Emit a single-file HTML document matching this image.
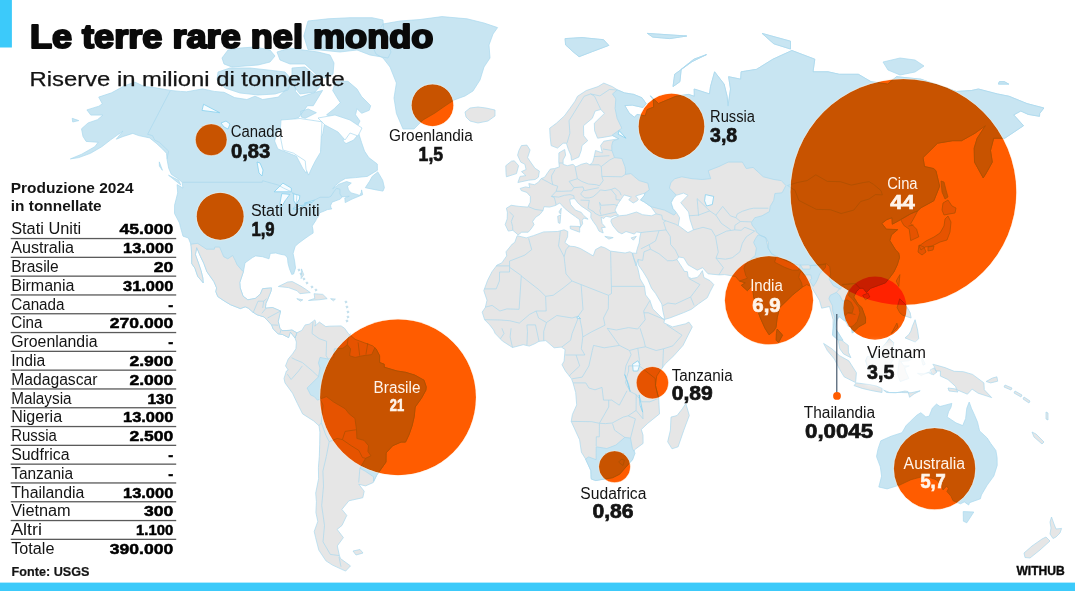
<!DOCTYPE html><html><head><meta charset="utf-8"><style>
html,body{margin:0;padding:0;background:#fff;}
#c{position:relative;width:1075px;height:591px;overflow:hidden;background:#fff;}
svg{position:absolute;left:0;top:0;font-family:"Liberation Sans",sans-serif;}
.m{mix-blend-mode:multiply;}
</style></head><body><div id="c">
<svg width="1075" height="591" viewBox="0 0 1075 591">
<rect width="1075" height="591" fill="#fff"/>
<g fill="#e6e6e6" stroke="#a9d8ee" stroke-width="0.7" stroke-linejoin="round">
<path d="M517.2,235.7 L526.2,237.9 L533.3,235.7 L543.7,231.9 L557.7,231.5 L564.1,229.8 L567.8,231.5 L567.6,236.8 L564.9,242.5 L569.6,246.2 L574.7,246.6 L580.4,248.5 L593.2,255.9 L595.5,249.6 L601.0,246.6 L604.7,247.7 L610.6,251.1 L625.1,253.0 L629.8,251.8 L632.3,253.0 L633.6,257.8 L637.7,267.7 L640.1,278.9 L644.5,286.4 L645.6,294.9 L649.9,300.5 L652.8,308.9 L662.0,318.0 L664.5,319.7 L663.9,322.8 L672.5,326.9 L685.5,323.8 L688.9,322.1 L692.3,326.9 L688.1,335.2 L683.0,345.4 L673.9,355.7 L665.3,363.8 L660.4,370.3 L656.7,376.1 L655.5,385.6 L658.7,398.3 L659.5,413.9 L647.8,423.3 L641.3,429.5 L643.0,435.1 L643.1,443.4 L634.5,449.8 L632.5,459.7 L629.1,463.4 L619.6,474.2 L612.6,477.7 L595.8,480.5 L591.4,479.1 L591.1,477.4 L590.9,470.7 L585.6,459.0 L581.4,452.2 L579.6,439.8 L571.2,421.4 L572.4,414.5 L576.7,404.9 L575.7,392.5 L573.0,382.9 L571.5,378.8 L565.4,371.0 L562.0,364.8 L564.1,361.1 L565.1,349.5 L561.4,347.1 L554.1,347.8 L545.8,340.6 L539.1,341.3 L534.8,343.7 L529.3,346.1 L523.2,344.7 L512.5,347.5 L502.4,341.0 L495.2,333.5 L493.6,330.0 L489.7,324.9 L484.6,319.7 L482.2,312.1 L485.3,307.5 L487.0,300.2 L483.8,290.7 L487.6,280.3 L492.0,271.7 L497.0,265.1 L501.8,262.9 L506.7,255.9 L506.0,251.8 L512.3,244.0 L514.7,242.5Z M633.6,257.8 L632.3,253.0 L636.8,253.3 L636.5,251.8 L637.8,247.0 L639.2,242.9 L639.9,236.8 L640.9,232.6 L636.4,231.9 L634.4,234.1 L626.0,231.5 L621.9,233.8 L618.0,231.9 L612.8,225.7 L610.9,221.5 L611.4,219.2 L614.7,217.7 L619.3,215.8 L626.4,215.1 L636.5,212.0 L642.5,214.7 L651.4,215.8 L656.1,213.9 L651.0,206.7 L644.2,201.9 L640.6,200.1 L644.4,195.3 L644.9,193.1 L635.7,196.0 L638.3,199.3 L637.2,200.8 L633.2,203.0 L628.7,199.7 L631.4,197.1 L624.1,194.9 L620.5,200.1 L617.5,204.5 L615.0,210.1 L617.5,214.7 L618.7,215.1 L614.0,215.8 L610.8,217.3 L605.8,216.2 L603.8,218.5 L601.1,217.3 L602.1,223.4 L605.4,227.3 L601.6,227.7 L603.2,233.0 L599.0,231.1 L596.5,226.1 L593.2,221.5 L590.8,217.7 L591.0,212.8 L586.8,209.7 L581.8,206.4 L577.6,202.7 L575.6,199.7 L574.1,198.6 L569.7,199.3 L570.6,204.5 L575.4,210.1 L581.3,212.4 L583.6,215.4 L588.1,219.2 L583.7,218.1 L582.2,220.4 L582.6,223.8 L579.9,227.7 L580.5,225.4 L579.6,219.6 L575.4,216.6 L569.5,212.4 L564.5,208.2 L559.8,203.0 L555.1,205.6 L549.5,207.1 L544.0,206.7 L543.0,210.5 L540.0,214.3 L535.6,217.3 L532.6,221.5 L534.0,224.6 L531.2,228.8 L528.2,232.2 L521.7,232.2 L518.1,234.9 L516.0,233.0 L512.8,230.3 L508.3,231.1 L505.2,224.6 L507.2,218.9 L507.4,212.4 L506.4,208.2 L511.2,205.3 L519.1,206.4 L527.8,207.1 L530.3,202.3 L530.4,196.4 L526.8,192.4 L521.3,190.6 L520.2,188.4 L525.5,186.9 L529.8,187.7 L528.8,183.6 L534.5,184.7 L538.6,182.1 L541.0,178.7 L544.7,177.2 L547.6,172.8 L550.3,169.1 L554.5,168.6 L559.4,166.9 L558.8,162.1 L558.9,152.9 L564.7,149.5 L565.6,155.2 L563.1,159.9 L563.1,164.3 L567.3,165.7 L573.0,164.3 L575.8,166.9 L581.4,164.3 L586.5,163.0 L589.9,164.8 L592.7,162.1 L594.0,157.6 L595.5,150.5 L602.3,152.9 L600.6,145.6 L603.8,141.2 L618.9,138.7 L612.6,135.7 L604.4,137.2 L597.6,138.2 L594.6,130.7 L594.3,123.3 L604.4,113.4 L600.8,109.5 L595.2,111.0 L592.3,118.3 L583.5,125.7 L583.7,135.7 L587.7,140.7 L582.0,145.6 L581.2,150.5 L578.8,157.1 L571.5,160.3 L570.9,155.2 L568.4,149.5 L566.4,143.2 L563.1,143.2 L557.5,148.1 L551.1,145.6 L550.1,136.2 L549.7,128.2 L556.3,123.3 L564.4,115.9 L569.8,108.5 L575.0,101.2 L577.5,96.3 L586.3,90.5 L598.0,86.6 L603.8,83.1 L612.3,86.6 L617.7,90.0 L624.5,92.9 L633.8,94.4 L642.0,97.8 L646.1,103.6 L643.0,107.5 L632.2,105.1 L624.8,105.6 L629.4,113.4 L634.6,117.3 L637.0,114.4 L645.2,115.9 L647.3,109.5 L653.7,107.1 L653.3,99.7 L650.4,95.9 L658.5,103.6 L675.9,96.3 L688.7,94.4 L694.3,96.3 L694.2,89.0 L709.5,93.9 L710.5,86.6 L714.6,71.8 L724.1,84.1 L727.1,96.3 L728.0,106.1 L730.5,89.0 L728.6,76.7 L740.7,79.2 L741.1,71.8 L756.6,69.3 L772.9,59.2 L791.9,50.5 L814.8,59.2 L813.0,71.8 L828.1,71.8 L839.4,74.3 L858.4,74.3 L871.0,81.7 L887.7,84.1 L896.5,76.7 L920.9,79.2 L956.5,91.5 L971.5,90.5 L978.4,89.0 L997.2,93.9 L1009.2,96.3 L1027.0,103.6 L1043.9,108.0 L1039.7,113.4 L1039.5,116.3 L1028.2,114.4 L1020.8,111.0 L1013.7,114.9 L1023.5,125.7 L1004.8,138.2 L993.7,138.2 L990.5,150.5 L992.3,162.1 L986.4,172.8 L983.2,177.9 L974.5,162.1 L974.2,148.1 L977.2,138.2 L985.4,125.7 L975.0,133.2 L961.6,140.7 L952.7,140.7 L937.6,143.2 L923.0,157.6 L924.5,166.5 L933.7,168.6 L935.9,170.7 L939.6,186.2 L933.8,200.8 L920.6,207.9 L917.7,210.9 L913.1,219.6 L910.8,223.4 L916.6,229.2 L918.8,236.8 L910.7,240.6 L910.2,236.8 L909.2,229.2 L903.8,225.4 L901.6,221.5 L900.7,219.6 L892.3,224.2 L892.0,217.7 L886.8,219.6 L881.8,223.4 L886.3,229.2 L897.7,229.6 L891.4,234.9 L889.8,240.6 L895.6,250.0 L898.7,253.0 L899.5,257.4 L897.3,264.8 L893.9,272.0 L889.8,277.5 L885.5,282.8 L878.7,285.3 L870.7,288.2 L866.4,292.4 L863.1,288.2 L859.8,288.2 L856.4,291.7 L853.7,297.0 L858.0,304.0 L861.8,307.5 L865.6,318.0 L865.5,323.1 L858.9,326.6 L852.4,333.1 L851.3,326.9 L848.2,326.2 L846.6,323.1 L844.4,319.7 L840.0,316.2 L837.0,319.7 L835.2,328.3 L838.7,333.5 L841.8,340.3 L848.3,345.4 L848.4,352.2 L850.9,357.7 L843.5,353.9 L839.8,348.8 L838.2,340.3 L832.6,335.2 L833.0,328.3 L833.1,319.7 L829.5,306.5 L821.7,308.2 L819.5,300.5 L814.2,291.7 L810.9,286.4 L806.8,284.6 L802.4,287.1 L796.6,291.7 L792.2,295.3 L785.8,301.6 L779.7,307.5 L777.2,317.6 L776.0,327.3 L773.9,330.7 L769.1,334.8 L765.0,328.3 L760.5,318.3 L757.2,309.3 L753.7,297.0 L752.8,289.6 L752.3,285.3 L747.4,290.7 L741.4,285.3 L745.3,282.8 L739.4,281.0 L735.3,276.4 L724.6,274.6 L718.9,274.9 L708.0,273.8 L702.6,267.7 L697.3,270.2 L688.0,264.8 L683.8,257.8 L678.7,257.0 L677.0,259.6 L682.7,268.4 L684.3,271.3 L687.4,271.7 L688.2,277.1 L691.5,278.5 L697.2,277.5 L699.8,274.6 L702.4,270.6 L703.9,277.5 L710.1,280.7 L713.8,284.6 L710.1,291.7 L707.3,297.7 L698.3,304.0 L691.4,309.3 L683.3,312.8 L669.7,318.0 L664.8,319.3 L662.9,311.0 L661.8,304.0 L655.6,293.5 L651.5,288.2 L647.7,279.2 L643.3,272.0 L638.3,264.8 L638.2,259.2 L636.5,264.8 L635.9,265.9 L633.6,257.8Z M296.8,332.8 L301.8,330.4 L305.2,324.9 L309.2,324.2 L314.9,319.9 L315.9,323.1 L314.8,326.2 L319.4,322.1 L325.8,326.6 L329.2,326.2 L341.1,325.9 L344.6,328.3 L348.3,333.5 L355.1,339.3 L364.2,342.7 L372.6,345.8 L376.0,348.8 L379.6,355.7 L379.6,362.5 L384.2,364.2 L384.2,367.2 L397.0,371.0 L405.6,372.3 L414.8,375.1 L424.0,380.2 L426.2,386.8 L425.9,390.1 L421.4,398.3 L415.2,407.0 L414.2,416.7 L412.0,426.1 L408.9,435.0 L405.5,442.1 L401.0,442.1 L392.7,445.7 L386.1,452.9 L386.0,462.0 L376.9,474.9 L373.3,482.5 L365.5,485.9 L358.8,484.3 L364.2,491.2 L362.8,497.7 L348.9,500.8 L341.9,509.4 L346.8,515.4 L342.0,525.4 L337.1,529.4 L343.4,537.6 L337.3,545.9 L339.4,555.6 L340.5,558.6 L350.5,565.9 L345.6,571.1 L332.5,565.1 L325.9,560.8 L318.8,550.1 L315.6,537.6 L314.2,531.5 L317.8,521.4 L315.9,512.6 L316.4,501.6 L315.7,493.1 L318.6,478.7 L318.4,467.5 L319.3,456.5 L319.7,444.2 L319.9,432.1 L319.0,425.8 L313.6,420.9 L302.6,413.9 L297.4,403.5 L292.5,393.2 L285.0,382.9 L284.0,378.5 L286.4,371.0 L288.2,370.0 L285.5,365.9 L288.2,359.1 L292.5,353.9 L295.9,348.8 L296.4,342.0 L295.0,337.9Z M526.9,145.1 L530.1,150.0 L527.6,157.6 L530.6,162.1 L534.9,168.2 L539.4,171.1 L538.4,177.2 L535.2,179.5 L528.6,180.2 L517.9,182.5 L520.1,176.4 L525.9,175.6 L521.5,171.6 L526.1,169.5 L524.9,164.3 L520.7,162.1 L517.6,155.2 L518.9,150.5 L521.4,145.6Z M514.3,160.8 L518.6,165.7 L516.5,173.6 L506.4,176.8 L506.0,172.8 L505.8,165.7 L511.4,161.2Z M570.1,226.1 L579.6,226.5 L579.7,232.2 L570.4,228.8Z M560.7,215.1 L560.0,223.4 L558.3,222.7 L557.7,216.2Z M561.3,208.2 L560.7,214.3 L558.9,212.0Z M604.8,236.4 L613.2,237.6 L608.9,239.1Z M636.3,236.4 L633.4,240.2 L631.1,237.9Z M565.1,38.6 L582.1,37.6 L603.5,39.7 L608.8,45.4 L592.3,51.6 L579.1,56.7 L572.9,51.6 L565.6,44.9Z M706.5,54.6 L692.0,61.7 L674.7,74.3 L673.0,86.6 L679.9,81.7 L681.2,69.3 L693.9,59.2Z M762.1,33.4 L790.5,41.2 L790.5,49.0 L773.8,43.8Z M1004.4,81.7 L1008.7,84.1 L998.4,84.1 L999.3,81.7Z M647.4,33.4 L686.8,36.0 L669.7,38.6 L652.8,37.1Z M777.2,329.0 L782.5,335.2 L778.6,342.4 L776.2,340.3 L776.4,333.5Z M899.9,274.6 L898.8,286.4 L896.2,281.0Z M868.0,293.1 L869.8,297.0 L865.4,299.8 L862.7,295.3Z M899.7,298.8 L905.2,304.0 L910.2,312.8 L911.1,318.0 L902.7,315.2 L899.8,312.8 L897.1,307.5 L898.7,302.3Z M915.1,319.7 L917.6,330.0 L918.8,338.6 L915.2,342.0 L905.0,337.9 L908.9,334.5 L910.9,331.1 L912.3,326.6 L913.7,323.1Z M896.9,323.1 L898.0,327.3 L891.2,333.5 L892.6,331.1Z M889.2,338.6 L893.8,342.7 L893.0,347.8 L896.1,358.0 L893.1,359.7 L889.4,365.9 L886.9,376.1 L882.3,374.4 L873.2,372.7 L869.2,372.0 L865.6,360.8 L867.4,356.3 L871.7,357.4 L877.8,352.9 L882.3,347.1 L886.8,342.0Z M823.6,343.4 L831.9,348.8 L839.6,355.7 L848.8,360.8 L856.4,372.7 L855.6,382.6 L844.1,376.8 L839.6,369.3 L834.4,359.1 L827.3,350.5Z M856.2,382.9 L869.9,384.6 L876.3,386.0 L882.1,388.4 L882.0,392.5 L870.7,390.4 L862.2,388.4 L854.0,385.6Z M883.6,390.1 L886.6,392.5 L895.7,392.8 L904.9,391.1 L908.0,391.5 L909.6,397.3 L914.0,393.9 L920.2,390.8 L911.0,392.8 L901.8,392.5 L889.6,392.5Z M900.7,358.0 L914.5,357.4 L908.4,360.8 L900.7,361.4 L903.8,365.9 L909.3,365.9 L904.7,367.6 L905.9,372.0 L908.9,378.5 L900.2,381.5 L897.6,374.4 L898.6,365.2 L899.2,360.8Z M932.8,364.2 L945.0,367.6 L954.2,371.3 L963.3,371.7 L972.5,374.4 L983.0,382.2 L983.9,382.9 L984.3,389.8 L991.7,397.6 L978.1,393.2 L972.1,389.1 L967.4,394.2 L956.9,389.8 L955.4,386.3 L947.9,379.5 L940.4,376.1 L940.4,371.0 L935.8,371.0 L934.3,366.5Z M922.1,357.4 L925.2,364.2 L923.0,365.2 L921.8,360.8Z M917.5,373.4 L921.1,375.4 L928.2,372.7 L932.1,374.4 L929.7,372.0 L923.6,373.7Z M996.9,376.8 L997.7,381.2 L990.6,382.9 L986.1,381.5 L992.3,378.1Z M465.0,112.0 L470.0,108.0 L478.0,107.0 L486.0,108.0 L495.0,110.0 L495.0,116.0 L488.0,121.0 L478.0,123.0 L470.0,121.0 L466.0,117.0Z M943.0,203.0 L948.0,200.0 L952.0,206.0 L956.0,208.0 L955.0,213.0 L949.0,214.0 L944.0,215.0 L942.0,210.0Z M948.0,216.0 L951.0,222.0 L950.0,232.0 L947.0,240.0 L940.0,242.0 L932.0,246.0 L925.0,247.0 L921.0,250.0 L919.0,246.0 L926.0,241.0 L934.0,237.0 L940.0,233.0 L944.0,226.0 L945.0,219.0Z M919.0,245.0 L924.0,247.0 L926.0,252.0 L922.0,255.0 L918.0,252.0Z M928.0,247.0 L934.0,246.0 L933.0,250.0 L928.0,251.0Z M685.8,403.5 L689.3,415.5 L683.8,430.2 L678.1,446.8 L672.0,448.8 L667.7,441.8 L670.4,430.2 L671.0,417.1 L677.1,415.5 L682.4,408.7Z M278.3,286.5 L287.7,282.0 L292.3,281.6 L300.8,286.1 L306.4,289.7 L310.3,292.6 L299.9,293.7 L297.2,290.8 L288.5,287.6 L281.0,286.8Z M314.1,293.7 L322.8,294.4 L327.2,298.7 L318.9,299.8 L308.5,300.5 L314.8,298.4Z M296.8,298.7 L302.8,299.8 L300.5,301.2Z M330.6,298.7 L335.4,299.1 L333.4,300.8Z M301.5,268.9 L301.1,278.6 L303.7,274.8Z M297.8,270.0 L299.0,268.8 L300.2,270.0 L299.0,271.2Z M299.8,274.0 L301.0,272.8 L302.2,274.0 L301.0,275.2Z M302.8,279.0 L304.0,277.8 L305.2,279.0 L304.0,280.2Z M305.8,283.0 L307.0,281.8 L308.2,283.0 L307.0,284.2Z M310.8,287.0 L312.0,285.8 L313.2,287.0 L312.0,288.2Z M314.8,290.0 L316.0,288.8 L317.2,290.0 L316.0,291.2Z M344.8,302.0 L346.0,300.8 L347.2,302.0 L346.0,303.2Z M345.8,307.0 L347.0,305.8 L348.2,307.0 L347.0,308.2Z M346.8,312.0 L348.0,310.8 L349.2,312.0 L348.0,313.2Z M346.8,317.0 L348.0,315.8 L349.2,317.0 L348.0,318.2Z M345.8,321.0 L347.0,319.8 L348.2,321.0 L347.0,322.2Z M353.0,551.0 L360.0,549.5 L363.0,553.0 L356.0,555.0Z M1005.0,385.0 L1012.0,388.0 L1011.0,390.0 L1004.0,387.0Z M1015.0,391.0 L1022.0,395.0 L1021.0,397.0 L1014.0,393.0Z M1024.0,397.0 L1030.0,401.0 L1029.0,403.0 L1023.0,399.0Z M1032.0,432.0 L1036.0,434.0 L1044.0,442.0 L1042.0,444.0 L1034.0,437.0Z M1046.0,412.0 L1048.0,413.0 L1048.0,420.0 L1046.0,419.0Z M948.0,388.0 L956.0,389.0 L958.0,392.0 L949.0,391.0Z M930.0,370.0 L934.0,368.0 L937.0,372.0 L933.0,375.0Z M1051.5,517.0 L1054.0,524.0 L1056.0,529.0 L1061.6,528.4 L1060.0,533.0 L1056.0,537.0 L1053.0,538.5 L1050.0,534.0 L1051.0,528.0 L1050.0,522.0Z M1046.0,537.0 L1050.0,541.0 L1040.0,550.0 L1030.0,558.0 L1025.0,557.5 L1024.0,553.0 L1032.0,546.0 L1042.0,539.0Z"/>
</g>
<g fill="#c8e5f2" stroke="#a9d8ee" stroke-width="0.7" stroke-linejoin="round">
<path d="M86.9,109.9 L98.9,106.2 L102.3,103.8 L98.7,97.1 L111.6,92.8 L124.0,86.0 L134.9,82.1 L144.3,86.5 L154.1,87.5 L170.4,90.4 L180.3,91.4 L186.5,91.8 L202.5,88.9 L214.2,91.4 L224.1,92.3 L234.6,97.6 L246.9,99.5 L255.0,96.2 L262.7,99.5 L278.2,97.1 L295.7,80.2 L295.4,91.4 L300.5,97.1 L315.4,92.3 L322.6,90.4 L313.3,105.7 L307.5,105.7 L298.7,117.4 L290.4,120.6 L277.9,130.7 L274.6,141.0 L277.8,148.9 L296.5,156.3 L302.7,168.2 L306.1,173.1 L311.4,159.7 L320.7,151.1 L319.0,142.3 L322.8,133.4 L324.4,124.3 L335.8,125.2 L340.4,128.8 L344.0,133.4 L343.2,141.0 L346.0,143.6 L353.6,140.1 L358.8,133.8 L361.5,142.3 L364.5,151.1 L368.8,157.6 L377.3,164.0 L377.4,170.3 L367.3,176.4 L355.7,177.6 L345.5,178.4 L340.2,181.5 L335.4,185.4 L332.7,188.8 L339.0,184.2 L346.6,181.5 L351.3,183.1 L347.5,186.2 L348.5,189.9 L351.1,192.9 L356.8,194.4 L359.6,195.5 L361.3,192.5 L361.6,189.9 L362.6,194.7 L352.0,199.1 L345.2,202.6 L344.8,198.0 L349.3,196.2 L342.0,196.9 L340.3,199.1 L332.0,202.2 L330.5,205.8 L331.1,207.9 L331.9,208.9 L327.4,209.6 L324.3,211.0 L319.7,212.8 L318.1,217.1 L316.4,218.9 L315.9,220.4 L312.7,225.3 L312.3,226.4 L313.1,230.7 L313.1,233.1 L309.9,235.1 L305.1,238.4 L298.9,243.0 L295.2,246.3 L293.1,253.4 L294.6,260.9 L295.5,268.1 L293.6,274.0 L291.7,274.4 L289.4,268.5 L288.0,263.3 L287.5,258.0 L285.1,255.1 L280.4,254.3 L275.8,253.0 L270.3,253.4 L269.0,258.8 L262.4,256.7 L255.6,255.9 L252.4,257.6 L245.0,262.9 L243.5,271.3 L239.8,282.4 L240.2,287.9 L243.1,296.2 L247.8,299.8 L255.3,298.4 L260.3,294.1 L262.6,288.7 L271.5,287.9 L271.0,291.2 L268.0,298.7 L265.9,303.3 L265.4,308.2 L272.5,307.5 L280.6,311.0 L278.2,321.4 L279.9,328.3 L282.2,330.7 L289.0,330.4 L292.0,330.0 L296.8,332.8 L295.0,337.9 L290.4,332.1 L288.6,337.6 L282.6,334.5 L278.1,333.8 L273.2,329.0 L271.6,324.9 L266.8,319.7 L264.0,316.9 L257.1,314.8 L252.8,312.1 L248.4,308.2 L245.2,306.8 L240.4,308.6 L230.5,304.7 L224.0,300.8 L217.8,296.6 L215.8,291.6 L216.6,287.9 L213.9,281.6 L206.9,271.7 L203.8,263.3 L200.6,256.7 L196.7,247.6 L195.4,254.7 L198.4,262.9 L201.1,270.9 L202.8,277.9 L203.2,282.8 L197.7,276.3 L194.9,268.1 L191.8,263.7 L191.7,254.7 L191.2,246.7 L190.8,244.2 L188.4,238.0 L183.0,236.2 L180.6,227.6 L179.5,223.0 L174.5,213.5 L174.6,205.1 L177.7,192.9 L177.1,184.6 L182.9,188.1 L182.2,182.3 L177.6,178.4 L171.3,174.3 L168.7,168.2 L167.1,159.7 L166.5,153.3 L162.4,148.9 L156.2,143.2 L149.6,137.9 L138.7,135.6 L132.8,133.4 L123.1,136.5 L116.3,139.2 L122.9,131.1 L110.3,140.1 L101.8,146.7 L90.5,153.3 L78.8,157.6 L70.4,158.9 L81.7,154.2 L94.8,146.7 L98.2,142.3 L86.1,141.4 L83.0,136.5 L81.5,128.8 L88.1,122.9 L97.5,119.7 L102.9,115.1 L90.8,115.1Z M308.2,109.0 L316.4,112.7 L305.2,118.3 L301.1,116.9 L300.7,111.3Z M377.8,171.9 L382.7,180.3 L384.4,187.7 L383.0,191.1 L376.1,189.9 L365.3,187.7 L369.7,181.1 L372.2,176.4Z M168.5,175.2 L180.8,185.0 L178.6,180.3Z M159.3,161.9 L162.4,170.3 L159.4,166.1Z M72.2,118.3 L78.8,120.6 L72.7,122.0Z M222.0,58.0 L228.0,50.0 L240.0,48.0 L255.0,47.0 L270.0,50.0 L275.0,56.0 L270.0,62.0 L258.0,65.0 L245.0,66.0 L232.0,67.0 L224.0,64.0Z M218.0,72.0 L230.0,68.0 L250.0,68.0 L268.0,70.0 L285.0,72.0 L292.0,80.0 L288.0,90.0 L275.0,94.0 L258.0,95.0 L240.0,93.0 L225.0,88.0 L217.0,80.0Z M277.0,52.0 L290.0,48.0 L303.0,50.0 L318.0,52.0 L330.0,55.0 L334.0,63.0 L333.0,74.0 L325.0,78.0 L318.0,76.0 L305.0,64.0 L290.0,64.0 L280.0,60.0Z M292.0,68.0 L305.0,67.0 L318.0,78.0 L322.0,84.0 L315.0,92.0 L300.0,94.0 L292.0,84.0Z M303.8,36.0 L308.0,21.0 L328.0,18.8 L350.0,17.7 L372.0,17.7 L383.0,20.0 L384.0,35.0 L391.0,52.0 L388.0,58.0 L370.0,55.0 L357.0,50.0 L340.0,52.0 L320.0,50.0 L308.0,49.6Z M335.7,81.3 L347.9,81.3 L357.0,89.0 L361.6,96.6 L370.7,105.7 L369.2,110.3 L361.6,113.3 L357.0,108.7 L355.5,114.8 L360.0,121.0 L357.0,127.0 L351.0,127.0 L338.8,121.0 L326.6,114.8 L334.2,108.7 L340.3,102.7 L337.2,98.0 L332.7,90.5Z M883.0,62.0 L900.0,58.0 L915.0,60.0 L924.0,66.0 L915.0,72.0 L900.0,75.0 L888.0,70.0Z M383.0,24.0 L400.0,21.0 L420.0,19.5 L442.0,16.6 L467.0,18.8 L484.0,23.0 L497.6,27.6 L493.0,34.0 L489.0,45.0 L490.0,58.0 L484.0,67.0 L480.0,80.0 L473.0,91.0 L465.0,96.0 L454.0,100.0 L445.0,106.0 L435.0,113.0 L423.0,120.0 L414.0,129.0 L403.0,129.0 L396.4,113.4 L394.0,98.0 L396.4,83.0 L390.0,67.0 L383.0,58.0 L376.0,54.0 L372.0,45.0 L378.0,32.0Z M617.2,90.0 L617.7,90.0 L624.5,92.9 L633.8,94.4 L642.0,97.8 L646.1,103.6 L643.0,107.5 L632.2,105.1 L624.8,105.6 L629.4,113.4 L634.6,117.3 L637.0,114.4 L645.2,115.9 L647.3,109.5 L653.7,107.1 L653.3,99.7 L650.4,95.9 L658.5,103.6 L675.9,96.3 L688.7,94.4 L694.3,96.3 L694.2,89.0 L709.5,93.9 L710.5,86.6 L714.6,71.8 L724.1,84.1 L727.1,96.3 L728.0,106.1 L730.5,89.0 L728.6,76.7 L740.7,79.2 L741.1,71.8 L756.6,69.3 L772.9,59.2 L791.9,50.5 L814.8,59.2 L813.0,71.8 L828.1,71.8 L839.4,74.3 L858.4,74.3 L871.0,81.7 L887.7,84.1 L896.5,76.7 L920.9,79.2 L956.5,91.5 L971.5,90.5 L978.4,89.0 L997.2,93.9 L1009.2,96.3 L1027.0,103.6 L1043.9,108.0 L1039.7,113.4 L1039.5,116.3 L1028.2,114.4 L1020.8,111.0 L1013.7,114.9 L1023.5,125.7 L1004.8,138.2 L993.7,138.2 L990.5,150.5 L992.3,162.1 L986.4,172.8 L983.2,177.9 L974.5,162.1 L974.2,148.1 L977.2,138.2 L985.4,125.7 L975.0,133.2 L961.6,140.7 L952.7,140.7 L937.6,143.2 L923.0,157.6 L924.5,166.5 L933.7,168.6 L935.9,170.7 L939.6,186.2 L933.8,200.8 L920.6,207.9 L917.7,210.9 L914.5,212.0 L910.5,213.9 L900.7,219.6 L892.3,224.2 L892.0,217.7 L886.8,219.6 L881.8,223.4 L886.3,229.2 L897.7,229.6 L891.4,234.9 L889.8,240.6 L895.6,250.0 L898.7,253.0 L899.5,257.4 L897.3,264.8 L893.9,272.0 L889.8,277.5 L885.5,282.8 L878.7,285.3 L870.7,288.2 L866.4,292.4 L863.1,288.2 L859.8,288.2 L855.2,283.5 L847.7,284.6 L842.6,284.3 L840.5,289.2 L833.3,285.7 L829.2,279.2 L830.6,273.8 L829.7,266.6 L826.5,263.7 L822.0,264.8 L816.1,265.5 L810.1,265.5 L808.5,264.8 L801.0,265.1 L798.3,265.1 L793.3,263.7 L782.5,259.2 L777.2,256.7 L771.5,253.7 L768.1,248.1 L768.5,242.5 L765.7,237.6 L761.1,235.7 L756.2,231.9 L755.7,229.6 L752.0,225.0 L751.5,222.3 L754.8,217.7 L762.0,215.8 L769.4,211.6 L770.2,206.4 L773.7,200.4 L774.9,193.5 L782.1,192.8 L785.9,185.5 L781.3,180.6 L773.9,179.5 L763.3,176.8 L753.1,167.4 L746.3,168.6 L742.4,162.1 L728.2,162.1 L719.0,166.5 L708.2,170.7 L710.7,178.7 L702.2,179.5 L692.0,178.7 L681.8,176.8 L674.8,178.7 L670.9,182.5 L669.4,188.0 L676.4,195.3 L673.7,197.9 L671.2,202.7 L673.1,208.6 L676.3,212.4 L674.1,215.1 L664.4,210.1 L656.9,208.2 L651.0,206.7 L644.2,201.9 L640.6,200.1 L644.4,195.3 L644.9,193.1 L649.3,189.9 L647.9,183.2 L639.1,180.6 L634.6,176.8 L630.9,173.6 L625.3,174.4 L625.7,170.7 L624.9,166.5 L621.9,158.5 L614.5,157.6 L611.9,150.5 L611.7,145.6 L612.9,141.2 L618.9,138.7 L612.1,135.2 L621.8,128.2 L617.1,118.3 L615.1,108.5 L615.8,98.8 L612.5,93.9Z M802.4,287.1 L796.6,291.7 L792.2,295.3 L785.8,301.6 L779.7,307.5 L777.2,317.6 L776.0,327.3 L773.9,330.7 L769.1,334.8 L765.0,328.3 L760.5,318.3 L757.2,309.3 L753.7,297.0 L752.8,289.6 L752.3,285.3 L747.4,290.7 L741.4,285.3 L745.3,282.8 L739.4,281.0 L747.5,278.2 L745.8,275.6 L743.9,268.4 L745.2,264.8 L750.9,259.2 L755.2,255.6 L756.4,248.1 L753.6,242.5 L755.4,238.7 L758.0,234.9 L762.0,236.0 L765.7,237.6 L768.1,248.1 L771.5,253.7 L776.3,256.7 L774.6,262.2 L784.6,267.3 L792.3,270.2 L798.6,270.2 L800.4,264.8 L802.8,269.1 L810.3,269.1 L810.1,265.5 L816.0,264.8 L825.9,264.0 L825.3,267.7 L819.7,273.8 L817.7,279.2 L815.8,282.8 L813.3,286.4 L809.6,281.0 L811.6,278.5 L810.8,274.9 L804.1,274.9 L801.4,270.6 L799.5,273.8 L798.8,277.5 L801.6,282.8Z M859.8,288.2 L856.4,291.7 L853.7,297.0 L858.0,304.0 L861.8,307.5 L865.6,318.0 L865.5,323.1 L858.9,326.6 L852.4,333.1 L851.3,326.9 L854.3,324.9 L857.2,321.4 L859.9,312.8 L858.8,307.5 L854.9,302.3 L852.3,298.8 L848.4,295.3 L849.7,291.7 L844.9,288.2 L842.6,284.6 L850.7,283.5 L855.2,283.5Z M836.4,292.4 L830.2,295.3 L828.9,298.8 L832.5,305.8 L832.8,311.0 L834.9,318.0 L833.3,328.3 L832.6,335.2 L838.2,340.0 L843.1,340.3 L838.7,333.5 L835.2,328.3 L837.0,319.7 L838.8,316.2 L842.8,319.7 L845.6,321.4 L844.8,316.2 L847.8,312.8 L852.3,312.8 L853.6,307.5 L851.2,302.3 L847.1,299.8 L842.7,301.2 L839.6,295.3Z M374.8,347.8 L371.7,354.6 L362.8,355.7 L355.1,357.4 L349.6,355.7 L350.6,348.8 L347.3,344.7 L343.0,348.2 L334.4,348.8 L333.7,357.4 L328.2,359.1 L320.0,357.4 L318.5,363.1 L320.0,367.9 L318.5,376.8 L307.1,388.0 L310.6,394.9 L314.3,396.6 L317.4,400.1 L326.5,396.6 L333.3,401.8 L345.1,408.7 L349.2,413.9 L354.9,418.4 L356.5,429.7 L356.9,438.5 L364.0,440.3 L368.5,445.7 L367.9,451.4 L370.9,455.8 L365.6,458.3 L359.9,468.3 L365.3,471.2 L373.5,476.8 L373.5,481.3 L376.9,474.9 L386.0,462.0 L386.1,452.9 L392.7,445.7 L401.0,442.1 L405.5,442.1 L408.9,435.0 L412.0,426.1 L414.2,416.7 L415.2,407.0 L421.4,398.3 L425.9,390.1 L426.2,386.8 L424.0,380.2 L414.8,375.1 L405.6,372.3 L397.0,371.0 L384.2,367.2 L384.2,364.2 L379.6,362.5 L379.6,355.7 L376.0,348.8Z M969.2,402.0 L971.4,408.2 L974.6,415.2 L977.5,422.1 L979.6,430.9 L987.2,438.0 L990.6,443.3 L995.9,450.5 L997.1,457.7 L997.2,465.4 L993.8,476.1 L987.2,485.1 L981.4,495.0 L980.4,498.8 L969.5,502.7 L968.7,505.0 L964.3,501.9 L960.4,503.8 L953.0,500.7 L950.9,496.1 L946.9,491.5 L948.4,488.5 L946.6,486.2 L943.0,490.0 L941.5,485.1 L936.3,479.8 L927.7,476.8 L921.7,476.8 L910.8,479.8 L899.6,485.1 L887.1,488.9 L878.8,487.0 L881.6,476.1 L880.3,466.8 L876.5,456.6 L878.1,448.7 L880.8,440.8 L891.2,436.2 L902.0,432.7 L906.1,425.6 L910.3,421.4 L916.8,415.2 L920.8,412.7 L925.8,416.9 L929.2,416.2 L932.3,408.2 L936.5,404.1 L940.0,406.5 L951.8,403.4 L951.0,407.2 L948.6,411.7 L947.1,416.9 L955.9,422.8 L962.7,425.6 L965.6,418.6 L966.8,408.2Z M963.2,511.6 L973.8,512.0 L966.8,522.8 L963.4,521.2Z M635.1,453.2 L632.5,459.7 L629.1,463.4 L619.6,474.2 L612.6,477.7 L595.8,480.5 L591.4,479.1 L591.1,477.4 L590.9,470.7 L585.6,459.0 L588.6,456.9 L596.1,459.7 L596.2,446.8 L606.8,448.5 L615.9,445.1 L624.8,437.4 L630.5,438.1 L632.4,448.5Z M777.2,329.0 L782.5,335.2 L778.6,342.4 L776.2,340.3 L776.4,333.5Z M565.1,38.6 L582.1,37.6 L603.5,39.7 L608.8,45.4 L592.3,51.6 L579.1,56.7 L572.9,51.6 L565.6,44.9Z M706.5,54.6 L692.0,61.7 L674.7,74.3 L673.0,86.6 L679.9,81.7 L681.2,69.3 L693.9,59.2Z M762.1,33.4 L790.5,41.2 L790.5,49.0 L773.8,43.8Z M1004.4,81.7 L1008.7,84.1 L998.4,84.1 L999.3,81.7Z M647.4,33.4 L686.8,36.0 L669.7,38.6 L652.8,37.1Z M941.0,181.0 L944.0,182.0 L946.0,190.0 L948.0,197.0 L945.0,199.0 L942.0,192.0Z"/>
</g>
<g fill="#e6e6e6" stroke="#a9d8ee" stroke-width="0.7" stroke-linejoin="round">
<path d="M190.8,244.2 L197.7,243.4 L206.6,249.2 L214.4,249.2 L214.8,247.1 L219.6,247.1 L223.7,256.7 L227.8,258.8 L232.7,255.5 L235.0,260.1 L237.2,264.9 L242.4,270.9 L243.5,271.3 L239.8,282.4 L240.2,287.9 L243.1,296.2 L247.8,299.8 L255.3,298.4 L260.3,294.1 L262.6,288.7 L271.5,287.9 L271.0,291.2 L268.0,298.7 L265.9,303.3 L265.4,308.2 L272.5,307.5 L280.6,311.0 L278.2,321.4 L279.9,328.3 L282.2,330.7 L289.0,330.4 L292.0,330.0 L296.8,332.8 L295.0,337.9 L290.4,332.1 L288.6,337.6 L282.6,334.5 L278.1,333.8 L273.2,329.0 L271.6,324.9 L266.8,319.7 L264.0,316.9 L257.1,314.8 L252.8,312.1 L248.4,308.2 L245.2,306.8 L240.4,308.6 L230.5,304.7 L224.0,300.8 L217.8,296.6 L215.8,291.6 L216.6,287.9 L213.9,281.6 L206.9,271.7 L203.8,263.3 L200.6,256.7 L196.7,247.6 L195.4,254.7 L198.4,262.9 L201.1,270.9 L202.8,277.9 L203.2,282.8 L197.7,276.3 L194.9,268.1 L191.8,263.7 L191.7,254.7 L191.2,246.7Z"/>
</g>
<g fill="#ffffff" stroke="#a9d8ee" stroke-width="0.7"><path d="M281.0,120.0 L300.0,118.5 L322.0,121.8 L321.3,135.4 L320.5,152.3 L315.4,160.8 L312.0,167.5 L308.6,175.1 L306.0,169.2 L305.2,160.8 L293.4,153.1 L283.0,150.0 L280.0,135.0Z M318.0,118.0 L335.0,115.0 L350.0,120.0 L362.0,128.0 L358.0,136.0 L350.0,133.0 L345.0,140.0 L338.0,132.0 L325.0,125.0Z M683.5,193.1 L688.0,195.3 L680.8,202.7 L688.6,212.0 L690.0,219.6 L693.4,229.9 L687.9,232.6 L678.3,225.4 L679.6,217.7 L676.3,212.4 L673.1,208.6 L671.2,202.7 L673.7,197.9 L676.4,195.3Z"/></g>
<g fill="#f6fcff" stroke="#86d0ef" stroke-width="0.8"><path d="M705.4,194.6 L713.7,196.4 L712.3,204.5 L706.6,206.0 L704.6,200.8Z M619.2,130.7 L626.0,138.2 L618.1,134.2Z M632.6,364.2 L637.8,360.8 L639.9,364.2 L637.8,371.0 L633.2,371.0Z M624.7,374.4 L626.5,379.5 L630.1,391.5 L628.6,384.6Z M639.2,394.9 L641.0,403.5 L642.7,412.2 L640.1,405.2Z M282.9,183.1 L291.3,188.1 L291.3,191.8 L274.2,191.8Z M281.8,193.6 L280.1,202.6 L280.4,208.9 L285.1,200.8 L289.8,194.4Z M292.8,193.6 L299.8,195.5 L299.4,199.1 L296.0,204.4 L293.8,200.8 L293.6,194.4Z M305.9,204.7 L297.1,209.6 L292.8,208.9 L299.9,205.8Z M314.4,200.1 L304.4,203.3 L312.1,202.6Z M203.6,104.3 L219.7,112.7 L202.0,110.4Z M578.2,316.2 L580.6,318.7 L576.7,318.0Z M221.0,123.0 L226.0,121.0 L230.0,124.0 L228.0,129.0 L224.0,127.0Z M257.0,162.0 L260.0,163.0 L263.0,170.0 L262.0,176.0 L259.0,173.0Z"/></g>
<g fill="none" stroke="#a9d8ee" stroke-width="0.7"><path d="M182.5,182.3 L262.2,182.3 L262.5,180.7 L278.2,185.0 L283.5,188.1 L291.6,191.8 L296.9,195.5 L296.0,204.4 L293.5,207.9 L298.1,208.6 L306.0,204.4 L310.6,202.6 L314.4,200.1 L320.0,197.3 L328.8,197.3 L331.0,196.2 L333.8,191.8 L336.5,188.4 L339.9,189.2 L339.9,194.0 L342.0,196.9 M170.4,90.4 L147.6,134.3 L152.5,135.6 L154.7,140.1 L159.4,142.3 L168.6,151.1 L167.1,158.9 M787.4,185.5 L797.4,182.5 L807.1,180.6 L815.8,174.8 L827.4,181.4 L840.4,181.7 L851.3,185.1 L863.6,182.5 L869.1,181.7 L873.6,184.4 L881.0,190.6 L882.4,194.9 L875.4,194.6 L869.1,199.0 L860.6,201.5 L853.8,210.1 L841.2,213.5 L830.3,209.7 L816.4,209.4 L798.8,200.4 L794.9,190.2Z M628.6,365.9 L639.3,365.9 L655.2,378.5 L655.5,385.6 L658.7,398.3 L649.9,401.8 L641.9,401.8 L636.2,394.6 L630.1,391.5 L625.5,382.9 L626.5,377.8 L628.6,371.0Z M528.6,238.3 L531.7,249.6 L524.7,255.2 L509.5,261.1 L509.6,265.9 M496.1,265.9 L509.6,265.9 L509.5,272.0 L499.6,272.0 L499.4,281.0 L496.2,288.9 L484.4,288.9 M509.6,267.3 L521.3,275.6 L519.1,309.3 L506.9,308.9 L499.9,311.0 L492.1,305.4 L485.3,307.2 M521.3,276.0 L539.3,290.0 L545.6,296.3 L553.2,295.3 L563.0,288.2 L572.0,281.0 M560.3,231.1 L559.6,237.6 L558.5,245.9 L564.1,256.7 L566.1,249.6 L569.5,245.5 M564.1,256.7 L566.0,273.8 L572.0,281.0 L581.1,284.6 L608.5,295.3 L611.5,293.5 L611.4,286.4 L610.6,251.5 M611.4,286.4 L644.5,286.4 M545.6,296.3 L546.2,311.0 L536.1,311.0 L529.4,314.5 L519.3,323.1 L509.6,320.7 L500.7,320.0 L484.6,319.7 M536.1,311.0 L538.6,318.0 L546.5,322.5 L556.8,315.5 L572.1,318.0 L578.2,316.2 L583.0,309.3 L581.1,284.6 M608.5,295.3 L608.3,308.6 L603.5,318.0 L605.0,325.2 L591.9,331.7 L582.8,336.9 L581.8,328.3 L579.7,318.0 M607.2,328.3 L616.3,330.0 L628.5,327.6 L637.7,329.0 L645.2,319.7 L643.7,311.0 L649.9,300.5 M643.7,312.8 L648.3,312.8 L664.8,319.7 M666.6,324.9 L682.0,335.2 L672.9,345.8 L663.5,348.8 L662.6,368.2 M640.1,328.3 L643.9,340.3 L645.4,346.8 L656.1,350.5 L663.5,348.8 M607.2,328.3 L619.4,345.4 L629.5,350.5 L637.8,348.2 L645.4,346.8 M637.8,348.2 L639.3,359.1 L639.3,365.9 M629.5,350.5 L631.1,354.6 L625.9,365.9 L624.7,374.4 M619.4,345.4 L604.2,347.8 L593.5,345.4 L592.3,350.5 L588.9,365.9 L582.2,377.1 L572.1,378.8 M582.8,336.9 L581.3,348.8 L584.9,355.0 L565.4,355.0 M576.1,355.0 L579.7,365.9 L570.6,374.4 L569.3,376.1 M543.7,340.6 L543.7,331.4 L546.5,322.5 M578.2,318.0 L572.1,333.5 L570.6,340.3 L561.7,347.1 M539.1,341.7 L535.5,324.9 M526.9,345.1 L527.5,331.7 L526.9,324.9 L535.5,324.9 M512.5,347.5 L510.1,336.9 L511.1,328.3 M500.3,338.9 L504.0,333.5 L501.9,328.3 M573.0,382.9 L585.8,382.9 L588.9,388.0 L595.0,389.8 L602.0,387.4 L603.5,400.1 L608.7,400.1 L608.7,407.0 L599.4,423.3 M608.7,400.1 L611.7,400.1 L619.3,405.2 L627.0,390.8 M571.2,421.4 L591.8,421.7 L599.4,423.3 L605.5,423.6 L612.2,423.0 L623.2,417.1 L628.1,415.8 L635.4,418.8 L630.5,438.1 M599.4,423.6 L599.3,436.8 L596.3,436.8 L596.2,446.1 M624.8,437.4 L614.6,430.2 L612.5,423.6 M628.1,415.8 L636.1,410.4 L636.2,394.6 M636.1,410.4 L643.0,418.8 L642.7,412.2 M618.6,462.1 L623.0,465.5 L624.4,460.3 L621.7,459.0 L618.6,462.1 M528.4,206.7 L535.1,209.4 L543.0,210.5 M509.5,212.0 L513.5,215.8 L511.3,221.5 L512.6,226.5 L512.8,230.3 M541.5,178.7 L548.1,182.1 L552.1,184.4 L557.8,186.2 L556.1,191.3 L551.4,196.4 L554.3,197.5 L556.0,204.1 L555.7,205.3 M555.1,169.5 L551.6,175.6 L551.6,179.5 L552.7,184.4 M575.0,166.5 L577.4,178.7 L569.1,181.4 L574.0,187.7 L571.7,190.9 L561.9,191.3 L556.1,191.3 M559.1,163.0 L562.8,163.0 M551.4,196.4 L558.7,197.1 L564.5,195.3 L570.3,194.6 L573.8,195.7 L574.1,198.6 M577.4,178.7 L581.7,181.4 L588.4,184.0 L596.2,184.7 L599.4,185.8 L603.2,180.6 L601.9,176.4 L601.3,166.9 L599.3,164.8 L589.9,164.8 M574.0,187.7 L583.0,186.9 L583.9,189.9 L584.8,190.6 L598.9,187.7 M583.9,189.9 L580.7,193.9 L581.6,195.3 L584.9,197.9 L589.2,197.9 L593.0,196.8 L597.8,192.8 L600.4,189.9 M600.4,189.9 L605.0,190.6 L611.1,189.5 L615.9,195.3 L616.1,199.7 L620.5,200.1 M611.1,189.5 L615.0,188.0 L619.6,191.7 L621.2,195.3 M599.5,202.3 L601.1,205.3 L614.2,204.5 L617.5,205.6 M594.8,213.2 L599.9,215.8 L604.3,214.7 L611.0,213.2 L616.0,212.0 M580.5,200.1 L589.3,200.4 L588.0,208.2 L590.9,210.1 L594.2,212.0 L594.8,213.2 M599.5,202.3 L600.6,208.2 L599.8,210.9 L601.0,214.7 M594.0,156.6 L609.4,155.7 M603.0,149.0 L611.9,150.5 M601.3,166.5 L609.8,159.9 L614.5,157.6 M601.9,176.4 L621.7,176.8 L625.3,174.4 M567.0,143.2 L569.9,133.2 L569.0,120.8 L575.1,111.0 L584.1,96.3 L590.6,93.9 M600.8,109.5 L594.6,96.3 L590.6,93.9 L599.8,95.9 L609.4,89.5 L617.2,90.0 M640.9,232.6 L646.2,231.9 L659.0,230.7 L666.1,229.9 L663.6,222.3 L665.9,220.8 M656.1,213.9 L661.7,215.1 L662.6,219.6 L665.9,220.8 L675.5,224.2 L678.3,225.7 M659.0,230.7 L655.5,241.0 L649.1,244.7 L640.9,248.9 M649.1,244.7 L650.5,249.2 L644.0,251.8 L642.7,260.4 L638.2,259.6 M650.5,249.2 L659.0,253.7 L667.4,260.7 L672.8,260.7 L677.0,259.6 M666.1,229.9 L670.3,236.4 L670.6,244.4 L675.4,250.0 L678.7,257.0 M662.8,305.8 L667.9,303.0 L675.5,304.0 L690.6,297.0 L694.1,305.4 M690.6,297.0 L699.9,284.6 L688.8,278.5 M693.4,229.9 L703.0,227.3 L711.5,229.6 L715.5,236.4 L718.3,252.2 L716.0,258.1 L723.4,267.7 L718.9,274.9 M716.0,258.1 L725.4,259.2 L732.2,257.8 L739.9,251.8 L742.3,243.2 L746.3,236.8 L754.7,231.1 M715.5,236.4 L726.5,231.1 L734.7,229.9 L741.2,230.3 L744.8,227.3 L754.7,231.1 M688.9,215.8 L698.5,215.1 L709.7,210.9 L715.9,215.1 L721.4,223.4 L730.8,229.9 M697.1,198.6 L698.6,215.8 M697.1,198.6 L705.1,206.4 L709.7,210.9 M715.9,215.1 L722.7,206.4 L730.4,215.8 L735.9,217.7 L737.3,213.9 L742.3,211.3 L749.4,209.0 L753.7,208.2 L768.4,208.2 M740.4,221.5 L751.4,221.9 M735.9,217.7 L740.4,221.5 L734.9,225.4 L734.7,229.9 M836.4,292.4 L839.5,288.9 M855.4,314.5 L847.8,312.8 M892.4,347.8 L880.8,357.4 L868.6,359.1 M908.4,226.1 L913.5,225.0 M917.7,210.9 L910.5,213.9 L900.7,219.6 M313.0,322.1 L312.0,333.5 L319.1,338.6 L326.6,341.3 L326.1,355.7 L328.2,359.1 M350.5,333.5 L348.1,338.6 L347.3,344.7 M358.1,342.4 L359.7,355.7 M367.8,343.0 L365.9,354.6 M291.6,357.7 L295.5,359.7 L302.3,362.5 L312.4,371.0 L318.5,376.8 M287.3,374.0 L291.1,379.5 L298.6,371.0 L302.3,365.9 M319.0,425.8 L321.3,422.6 L321.9,415.6 L323.1,405.2 L320.5,400.1 M321.3,422.6 L325.8,435.0 L329.2,441.7 L337.2,438.5 L342.4,439.6 L345.1,431.4 L356.5,429.7 M342.4,439.6 L351.2,445.7 L358.8,450.4 L362.5,457.6 L365.6,458.3 M329.2,441.7 L326.3,456.5 L322.9,471.2 L323.5,486.2 L321.7,505.5 L324.5,525.4 L323.0,541.8 L330.3,554.4 L339.4,555.6 M339.0,556.9 L341.0,566.8 M359.9,468.3 L358.7,482.5 M253.1,312.8 L258.0,301.2 L263.7,301.2 L266.5,298.7 M262.7,307.9 L263.7,301.2 M261.8,313.4 L265.7,308.6 M267.5,318.0 L280.6,311.0 M271.9,324.9 L278.0,325.2 M279.9,333.5 L281.1,329.7"/></g>
<g fill="#ff5c00"><circle class="m" cx="211.2" cy="139.8" r="15.7"/><circle class="m" cx="432.5" cy="105.2" r="21.0"/><circle class="m" cx="671.5" cy="126.5" r="33.0"/><circle class="m" cx="220.2" cy="216.3" r="23.6"/><circle class="m" cx="903.4" cy="192.0" r="113.0"/><circle class="m" cx="769.0" cy="300.3" r="44.2"/><circle class="m" cx="875.0" cy="308.1" r="31.6"/><circle class="m" cx="652.4" cy="382.8" r="16.0"/><circle class="m" cx="614.6" cy="466.8" r="15.7"/><circle class="m" cx="398.0" cy="397.3" r="78.0"/><circle class="m" cx="934.6" cy="468.7" r="40.8"/></g>
<mask id="rm"><rect width="1075" height="591" fill="#fff"/><circle cx="875.0" cy="308.1" r="31.6" fill="#000"/></mask>
<g fill="none" stroke="#fff1e2" stroke-width="0.9" stroke-opacity="0.5" mask="url(#rm)"><circle cx="211.2" cy="139.8" r="16.0"/><circle cx="432.5" cy="105.2" r="21.3"/><circle cx="671.5" cy="126.5" r="33.3"/><circle cx="220.2" cy="216.3" r="23.900000000000002"/><circle cx="903.4" cy="192.0" r="113.3"/><circle cx="769.0" cy="300.3" r="44.5"/><circle cx="652.4" cy="382.8" r="16.3"/><circle cx="614.6" cy="466.8" r="16.0"/><circle cx="398.0" cy="397.3" r="78.3"/><circle cx="934.6" cy="468.7" r="41.099999999999994"/></g>
<line x1="836.8" y1="314" x2="836.8" y2="394" stroke="#34495e" stroke-width="1.1"/>
<circle cx="837.0" cy="395.9" r="3.9" fill="#ff5c00"/>
<defs><filter id="blur" x="-30%" y="-30%" width="160%" height="160%"><feGaussianBlur stdDeviation="3"/></filter></defs>
<rect x="864" y="343" width="66" height="42" rx="6" fill="#fff" opacity="0.8" filter="url(#blur)"/>
<text x="230.7" y="137.4" font-size="16" font-weight="normal" fill="#141414" textLength="52.1" lengthAdjust="spacingAndGlyphs">Canada</text><text x="231.0" y="157.7" font-size="20" font-weight="bold" fill="#141414" textLength="39.3" lengthAdjust="spacingAndGlyphs" stroke="#141414" stroke-width="0.7">0,83</text><text x="389.0" y="141.1" font-size="16" font-weight="normal" fill="#141414" textLength="83.8" lengthAdjust="spacingAndGlyphs">Groenlandia</text><text x="418.6" y="160.6" font-size="20" font-weight="bold" fill="#141414" textLength="24.5" lengthAdjust="spacingAndGlyphs" stroke="#141414" stroke-width="0.7">1,5</text><text x="710.1" y="122.3" font-size="16" font-weight="normal" fill="#141414" textLength="44.9" lengthAdjust="spacingAndGlyphs">Russia</text><text x="710.1" y="142.2" font-size="20" font-weight="bold" fill="#141414" textLength="27.1" lengthAdjust="spacingAndGlyphs" stroke="#141414" stroke-width="0.7">3,8</text><text x="250.9" y="215.6" font-size="16" font-weight="normal" fill="#141414" textLength="68.8" lengthAdjust="spacingAndGlyphs">Stati Uniti</text><text x="251.4" y="235.6" font-size="20" font-weight="bold" fill="#141414" textLength="23.2" lengthAdjust="spacingAndGlyphs" stroke="#141414" stroke-width="0.7">1,9</text><text x="887.2" y="189.2" font-size="16" font-weight="normal" fill="#fff4ea" textLength="30.4" lengthAdjust="spacingAndGlyphs">Cina</text><text x="890.2" y="208.7" font-size="20" font-weight="bold" fill="#fff4ea" textLength="24.5" lengthAdjust="spacingAndGlyphs" stroke="#fff4ea" stroke-width="0.7">44</text><text x="750.2" y="291.2" font-size="16" font-weight="normal" fill="#fff4ea" textLength="32.6" lengthAdjust="spacingAndGlyphs">India</text><text x="752.3" y="311.9" font-size="20" font-weight="bold" fill="#fff4ea" textLength="28.4" lengthAdjust="spacingAndGlyphs" stroke="#fff4ea" stroke-width="0.7">6,9</text><text x="867.1" y="358.1" font-size="16" font-weight="normal" fill="#141414" textLength="58.8" lengthAdjust="spacingAndGlyphs">Vietnam</text><text x="867.1" y="379.0" font-size="20" font-weight="bold" fill="#141414" textLength="27.3" lengthAdjust="spacingAndGlyphs" stroke="#141414" stroke-width="0.7">3,5</text><text x="803.8" y="417.9" font-size="16" font-weight="normal" fill="#141414" textLength="71.3" lengthAdjust="spacingAndGlyphs">Thailandia</text><text x="805.0" y="438.2" font-size="20" font-weight="bold" fill="#141414" textLength="68.1" lengthAdjust="spacingAndGlyphs" stroke="#141414" stroke-width="0.7">0,0045</text><text x="671.7" y="380.5" font-size="16" font-weight="normal" fill="#141414" textLength="60.9" lengthAdjust="spacingAndGlyphs">Tanzania</text><text x="671.7" y="400.3" font-size="20" font-weight="bold" fill="#141414" textLength="41.1" lengthAdjust="spacingAndGlyphs" stroke="#141414" stroke-width="0.7">0,89</text><text x="580.3" y="498.6" font-size="16" font-weight="normal" fill="#141414" textLength="66.1" lengthAdjust="spacingAndGlyphs">Sudafrica</text><text x="592.5" y="517.5" font-size="20" font-weight="bold" fill="#141414" textLength="41.1" lengthAdjust="spacingAndGlyphs" stroke="#141414" stroke-width="0.7">0,86</text><text x="373.6" y="393.2" font-size="16" font-weight="normal" fill="#fff4ea" textLength="46.8" lengthAdjust="spacingAndGlyphs">Brasile</text><text x="389.8" y="410.7" font-size="16.5" font-weight="bold" fill="#fff4ea" textLength="14.3" lengthAdjust="spacingAndGlyphs" stroke="#fff4ea" stroke-width="0.7">21</text><text x="903.6" y="468.9" font-size="16" font-weight="normal" fill="#fff4ea" textLength="61.5" lengthAdjust="spacingAndGlyphs">Australia</text><text x="920.4" y="488.2" font-size="20" font-weight="bold" fill="#fff4ea" textLength="25.4" lengthAdjust="spacingAndGlyphs" stroke="#fff4ea" stroke-width="0.7">5,7</text>
<rect x="0" y="0" width="11.9" height="47.5" fill="#3ccafa"/>
<rect x="0" y="582.6" width="1075" height="9" fill="#3ccafa"/>
<text x="29.9" y="48" font-size="33.5" font-weight="bold" fill="#0a0a0a" stroke="#0a0a0a" stroke-width="2.1" stroke-linejoin="round" textLength="403.5" lengthAdjust="spacingAndGlyphs">Le terre rare nel mondo</text>
<text x="29.5" y="86.3" font-size="20" fill="#141414" stroke="#141414" stroke-width="0.25" textLength="315.2" lengthAdjust="spacingAndGlyphs">Riserve in milioni di tonnellate</text>
<text x="10.8" y="192.5" font-size="15.5" font-weight="bold" fill="#141414" textLength="122.8" lengthAdjust="spacingAndGlyphs">Produzione 2024</text>
<text x="10.8" y="211.1" font-size="15.5" font-weight="bold" fill="#141414" textLength="90.8" lengthAdjust="spacingAndGlyphs">in tonnellate</text>
<text x="11.2" y="234.4" font-size="16" fill="#141414" textLength="69.9" lengthAdjust="spacingAndGlyphs">Stati Uniti</text><text x="119.6" y="234.4" font-size="15.3" font-weight="bold" fill="#000" stroke="#000" stroke-width="0.5" textLength="53.7" lengthAdjust="spacingAndGlyphs">45.000</text><rect x="10.7" y="237.9" width="165.5" height="1.3" fill="#5a5a5a"/><text x="11.2" y="253.2" font-size="16" fill="#141414" textLength="62.8" lengthAdjust="spacingAndGlyphs">Australia</text><text x="123.0" y="253.2" font-size="15.3" font-weight="bold" fill="#000" stroke="#000" stroke-width="0.5" textLength="50.3" lengthAdjust="spacingAndGlyphs">13.000</text><rect x="10.7" y="256.7" width="165.5" height="1.3" fill="#5a5a5a"/><text x="11.2" y="272.0" font-size="16" fill="#141414" textLength="47.5" lengthAdjust="spacingAndGlyphs">Brasile</text><text x="153.8" y="272.0" font-size="15.3" font-weight="bold" fill="#000" stroke="#000" stroke-width="0.5" textLength="19.5" lengthAdjust="spacingAndGlyphs">20</text><rect x="10.7" y="275.5" width="165.5" height="1.3" fill="#5a5a5a"/><text x="11.2" y="290.8" font-size="16" fill="#141414" textLength="63.3" lengthAdjust="spacingAndGlyphs">Birmania</text><text x="123.0" y="290.8" font-size="15.3" font-weight="bold" fill="#000" stroke="#000" stroke-width="0.5" textLength="50.3" lengthAdjust="spacingAndGlyphs">31.000</text><rect x="10.7" y="294.3" width="165.5" height="1.3" fill="#5a5a5a"/><text x="11.2" y="309.6" font-size="16" fill="#141414" textLength="53.3" lengthAdjust="spacingAndGlyphs">Canada</text><text x="168.3" y="309.6" font-size="15.3" font-weight="bold" fill="#000" stroke="#000" stroke-width="0.5" textLength="5.0" lengthAdjust="spacingAndGlyphs">-</text><rect x="10.7" y="313.1" width="165.5" height="1.3" fill="#5a5a5a"/><text x="11.2" y="328.4" font-size="16" fill="#141414" textLength="31.2" lengthAdjust="spacingAndGlyphs">Cina</text><text x="109.8" y="328.4" font-size="15.3" font-weight="bold" fill="#000" stroke="#000" stroke-width="0.5" textLength="63.5" lengthAdjust="spacingAndGlyphs">270.000</text><rect x="10.7" y="331.9" width="165.5" height="1.3" fill="#5a5a5a"/><text x="11.2" y="347.2" font-size="16" fill="#141414" textLength="86.3" lengthAdjust="spacingAndGlyphs">Groenlandia</text><text x="168.3" y="347.2" font-size="15.3" font-weight="bold" fill="#000" stroke="#000" stroke-width="0.5" textLength="5.0" lengthAdjust="spacingAndGlyphs">-</text><rect x="10.7" y="350.7" width="165.5" height="1.3" fill="#5a5a5a"/><text x="11.2" y="366.0" font-size="16" fill="#141414" textLength="34.0" lengthAdjust="spacingAndGlyphs">India</text><text x="129.4" y="366.0" font-size="15.3" font-weight="bold" fill="#000" stroke="#000" stroke-width="0.5" textLength="43.9" lengthAdjust="spacingAndGlyphs">2.900</text><rect x="10.7" y="369.5" width="165.5" height="1.3" fill="#5a5a5a"/><text x="11.2" y="384.8" font-size="16" fill="#141414" textLength="86.3" lengthAdjust="spacingAndGlyphs">Madagascar</text><text x="129.4" y="384.8" font-size="15.3" font-weight="bold" fill="#000" stroke="#000" stroke-width="0.5" textLength="43.9" lengthAdjust="spacingAndGlyphs">2.000</text><rect x="10.7" y="388.3" width="165.5" height="1.3" fill="#5a5a5a"/><text x="11.2" y="403.6" font-size="16" fill="#141414" textLength="60.4" lengthAdjust="spacingAndGlyphs">Malaysia</text><text x="147.4" y="403.6" font-size="15.3" font-weight="bold" fill="#000" stroke="#000" stroke-width="0.5" textLength="25.9" lengthAdjust="spacingAndGlyphs">130</text><rect x="10.7" y="407.1" width="165.5" height="1.3" fill="#5a5a5a"/><text x="11.2" y="422.4" font-size="16" fill="#141414" textLength="50.9" lengthAdjust="spacingAndGlyphs">Nigeria</text><text x="123.0" y="422.4" font-size="15.3" font-weight="bold" fill="#000" stroke="#000" stroke-width="0.5" textLength="50.3" lengthAdjust="spacingAndGlyphs">13.000</text><rect x="10.7" y="425.9" width="165.5" height="1.3" fill="#5a5a5a"/><text x="11.2" y="441.2" font-size="16" fill="#141414" textLength="45.6" lengthAdjust="spacingAndGlyphs">Russia</text><text x="129.4" y="441.2" font-size="15.3" font-weight="bold" fill="#000" stroke="#000" stroke-width="0.5" textLength="43.9" lengthAdjust="spacingAndGlyphs">2.500</text><rect x="10.7" y="444.7" width="165.5" height="1.3" fill="#5a5a5a"/><text x="11.2" y="460.0" font-size="16" fill="#141414" textLength="58.3" lengthAdjust="spacingAndGlyphs">Sudfrica</text><text x="168.3" y="460.0" font-size="15.3" font-weight="bold" fill="#000" stroke="#000" stroke-width="0.5" textLength="5.0" lengthAdjust="spacingAndGlyphs">-</text><rect x="10.7" y="463.5" width="165.5" height="1.3" fill="#5a5a5a"/><text x="11.2" y="478.8" font-size="16" fill="#141414" textLength="61.8" lengthAdjust="spacingAndGlyphs">Tanzania</text><text x="168.3" y="478.8" font-size="15.3" font-weight="bold" fill="#000" stroke="#000" stroke-width="0.5" textLength="5.0" lengthAdjust="spacingAndGlyphs">-</text><rect x="10.7" y="482.3" width="165.5" height="1.3" fill="#5a5a5a"/><text x="11.2" y="497.6" font-size="16" fill="#141414" textLength="73.1" lengthAdjust="spacingAndGlyphs">Thailandia</text><text x="123.0" y="497.6" font-size="15.3" font-weight="bold" fill="#000" stroke="#000" stroke-width="0.5" textLength="50.3" lengthAdjust="spacingAndGlyphs">13.000</text><rect x="10.7" y="501.1" width="165.5" height="1.3" fill="#5a5a5a"/><text x="11.2" y="516.4" font-size="16" fill="#141414" textLength="59.5" lengthAdjust="spacingAndGlyphs">Vietnam</text><text x="144.0" y="516.4" font-size="15.3" font-weight="bold" fill="#000" stroke="#000" stroke-width="0.5" textLength="29.3" lengthAdjust="spacingAndGlyphs">300</text><rect x="10.7" y="519.9" width="165.5" height="1.3" fill="#5a5a5a"/><text x="11.2" y="535.2" font-size="16" fill="#141414" textLength="30.8" lengthAdjust="spacingAndGlyphs">Altri</text><text x="136.1" y="535.2" font-size="15.3" font-weight="bold" fill="#000" stroke="#000" stroke-width="0.5" textLength="37.2" lengthAdjust="spacingAndGlyphs">1.100</text><rect x="10.7" y="538.7" width="165.5" height="1.3" fill="#5a5a5a"/><text x="11.2" y="554.0" font-size="16" fill="#141414" textLength="43.2" lengthAdjust="spacingAndGlyphs">Totale</text><text x="109.8" y="554.0" font-size="15.3" font-weight="bold" fill="#000" stroke="#000" stroke-width="0.5" textLength="63.5" lengthAdjust="spacingAndGlyphs">390.000</text>
<text x="11.6" y="575.5" font-size="12.5" font-weight="bold" fill="#141414" stroke="#141414" stroke-width="0.2" textLength="77.8" lengthAdjust="spacingAndGlyphs">Fonte: USGS</text>
<text x="1016.4" y="575.3" font-size="12" font-weight="bold" fill="#0a0a0a" stroke="#0a0a0a" stroke-width="0.35" textLength="48.4" lengthAdjust="spacingAndGlyphs">WITHUB</text>
</svg>
</div></body></html>
